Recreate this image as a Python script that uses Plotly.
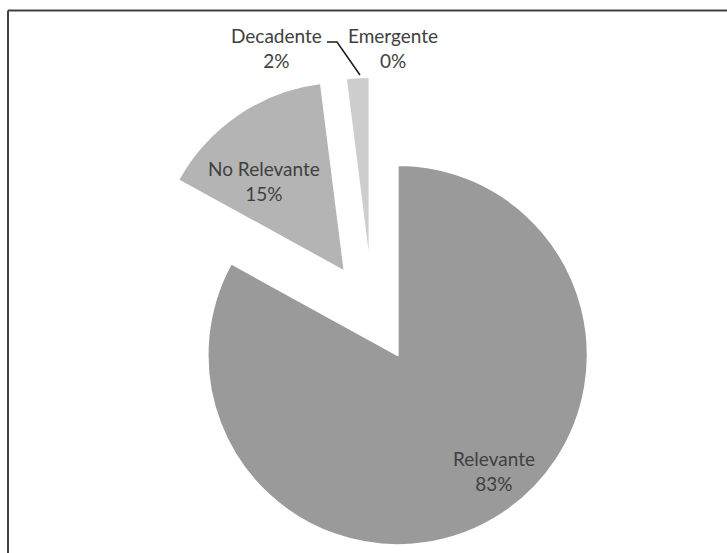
import plotly.graph_objects as go

# Categories and their shares (%)
labels = ["Relevante", "No Relevante", "Decadente", "Emergente"]
values = [83, 15, 2, 0]
colors = ["#9a9a9a", "#b4b4b4", "#cdcdcd", "#e0e0e0"]
pulls = [0.26, 0.26, 0.24, 0.26]

W_FIG, H_FIG = 727, 553
L, R, T, B = 133, 115, 73, 1
PW, PH = W_FIG - L - R, H_FIG - T - B


def paper_x(x):
    return (x - L) / PW


def paper_y(y):
    return (H_FIG - B - y) / PH


total = sum(values)
pct = [f"{round(100 * v / total)}%" for v in values]

fig = go.Figure(
    go.Pie(
        labels=labels,
        values=values,
        sort=False,
        direction="clockwise",
        rotation=0,
        pull=pulls,
        marker=dict(colors=colors, line=dict(color="white", width=2)),
        textinfo="none",
        hoverinfo="label+percent",
        showlegend=False,
    )
)

# Data labels: name on the first line, share on the second
label_pos = {
    "Relevante": (494, 471),
    "No Relevante": (264, 181),
    "Decadente": (276, 48),
    "Emergente": (393, 48),
}
font = dict(family="Lato, 'Open Sans', sans-serif", size=19, color="#404040")
for name, p in zip(labels, pct):
    x, y = label_pos[name]
    fig.add_annotation(
        x=paper_x(x), y=paper_y(y), xref="paper", yref="paper",
        text=f"{name}<br>{p}", showarrow=False, font=font,
        xanchor="center", yanchor="middle", align="center",
    )

# Leader line from the Decadente label to its slice
fig.add_shape(
    type="path",
    path=(f"M {paper_x(327)} {paper_y(42)} L {paper_x(337)} {paper_y(42)} "
          f"L {paper_x(360)} {paper_y(75)}"),
    xref="paper", yref="paper",
    line=dict(color="#1a1a1a", width=1.5),
)

# Chart frame (top and left edges)
fig.add_shape(type="line", xref="paper", yref="paper",
              x0=paper_x(8), y0=paper_y(10.5), x1=paper_x(730), y1=paper_y(10.5),
              line=dict(color="#404040", width=2))
fig.add_shape(type="line", xref="paper", yref="paper",
              x0=paper_x(8), y0=paper_y(10.5), x1=paper_x(8), y1=paper_y(560),
              line=dict(color="#404040", width=2))

fig.update_layout(
    width=W_FIG, height=H_FIG, autosize=False,
    margin=dict(l=L, r=R, t=T, b=B),
    paper_bgcolor="white", plot_bgcolor="white",
)

fig.write_html("out.html")
